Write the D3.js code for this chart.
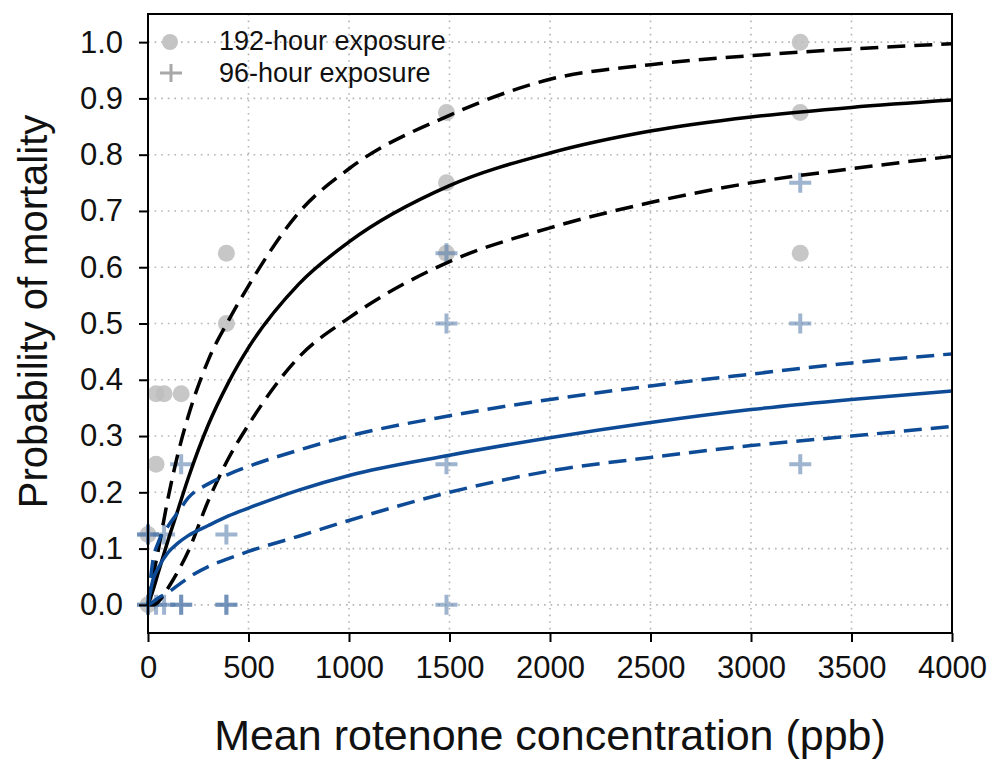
<!DOCTYPE html>
<html>
<head>
<meta charset="utf-8">
<script src="https://cdn.jsdelivr.net/npm/d3@7"></script>
<style>
	body { margin: 0; background: #fff; }
	svg { display: block; font-family: "Liberation Sans", Arial, sans-serif; }
</style>
</head>
<body>
<div id="chart"></div>
<script>

// Observed mortality, 192-hour exposure (grey circles)
var circleConc = [0, 0, 40, 40, 80, 165, 390, 390, 1485, 1485, 1485, 3245, 3245, 3245];
var circleMort = [0.125, 0, 0.375, 0.25, 0.375, 0.375, 0.625, 0.5, 0.875, 0.75, 0.625, 1.0, 0.875, 0.625];

// Observed mortality, 96-hour exposure (crosses, repeats overlap)
var crossConc = [0, 0, 0, 0, 40, 80, 80, 165, 165, 165, 390, 390, 390, 1485, 1485, 1485, 1485, 3245, 3245, 3245];
var crossMort = [0.125, 0.125, 0, 0, 0, 0.125, 0, 0.25, 0, 0, 0.125, 0, 0, 0.625, 0.5, 0.25, 0, 0.75, 0.5, 0.25];

// Fitted curves
var curveConc = [0, 25, 50, 100, 150, 200, 300, 400, 500, 750, 1000, 1500, 2000, 2500, 3000, 3500, 4000];
var fit192 =      [0, 0.026, 0.056, 0.115, 0.17, 0.225, 0.32, 0.395, 0.457, 0.57, 0.645, 0.745, 0.803, 0.842, 0.867, 0.884, 0.897];
var fit192Upper = [0, 0.05, 0.095, 0.19, 0.27, 0.335, 0.435, 0.505, 0.567, 0.697, 0.775, 0.87, 0.934, 0.96, 0.976, 0.988, 0.997];
var fit192Lower = [0, 0.0, 0.005, 0.03, 0.06, 0.095, 0.185, 0.26, 0.32, 0.44, 0.51, 0.61, 0.67, 0.715, 0.75, 0.775, 0.797];
var fit96 =       [0, 0.045, 0.065, 0.093, 0.11, 0.123, 0.141, 0.158, 0.172, 0.204, 0.23, 0.266, 0.297, 0.324, 0.347, 0.365, 0.38];
var fit96Upper =  [0, 0.08, 0.11, 0.14, 0.165, 0.19, 0.215, 0.232, 0.246, 0.275, 0.30, 0.336, 0.365, 0.389, 0.41, 0.43, 0.446];
var fit96Lower =  [0, 0.005, 0.012, 0.022, 0.035, 0.048, 0.068, 0.082, 0.095, 0.122, 0.15, 0.2, 0.238, 0.262, 0.283, 0.30, 0.317];

var xTicks = [0, 500, 1000, 1500, 2000, 2500, 3000, 3500, 4000];
var yTicks = [0, 0.1, 0.2, 0.3, 0.4, 0.5, 0.6, 0.7, 0.8, 0.9, 1.0];

var legendLabels = ["192-hour exposure", "96-hour exposure"];

var blue = "#0e4b96";

// Svg and plot area
var width = 992, height = 759;
var margin = {top: 14, right: 40, bottom: 126, left: 148};
var plotW = width - margin.left - margin.right;
var plotH = height - margin.top - margin.bottom;

var svg = d3.select("#chart").append("svg")
	.attr("width", width)
	.attr("height", height);

var chart = svg.append("g")
	.attr("transform", "translate(" + margin.left + "," + margin.top + ")");

// Scales
var xscale = d3.scaleLinear().domain([0, 4000]).range([0, plotW]);
var yscale = d3.scaleLinear().domain([-0.05, 1.05]).range([plotH, 0]);

// Dotted grid
chart.append("g").selectAll("line")
	.data(yTicks)
	.enter().append("line")
	.attr("x1", 0).attr("x2", plotW)
	.attr("y1", d => yscale(d)).attr("y2", d => yscale(d))
	.attr("stroke", "#b5b5b5")
	.attr("stroke-width", 1.6)
	.attr("stroke-dasharray", "1.6,5");

chart.append("g").selectAll("line")
	.data(xTicks.slice(1, -1))
	.enter().append("line")
	.attr("y1", 0).attr("y2", plotH)
	.attr("x1", d => xscale(d)).attr("x2", d => xscale(d))
	.attr("stroke", "#b5b5b5")
	.attr("stroke-width", 1.6)
	.attr("stroke-dasharray", "1.6,5");

// Points
var circles = circleConc.map((c, i) => ({conc: c, mort: circleMort[i]}));
var crosses = crossConc.map((c, i) => ({conc: c, mort: crossMort[i]}));

chart.append("g").selectAll("circle")
	.data(circles)
	.enter().append("circle")
	.attr("cx", d => xscale(d.conc))
	.attr("cy", d => yscale(d.mort))
	.attr("r", 8.5)
	.attr("fill", "#bdbdbd")
	.attr("fill-opacity", 0.85);

chart.append("g").selectAll("path")
	.data(crosses)
	.enter().append("path")
	.attr("d", d => {
		var x = xscale(d.conc), y = yscale(d.mort);
		return "M" + (x - 11) + "," + y + "H" + (x + 11) + "M" + x + "," + (y - 10) + "V" + (y + 10);
	})
	.attr("stroke", "#4f76a8")
	.attr("stroke-opacity", 0.55)
	.attr("stroke-width", 4)
	.attr("fill", "none");

// Fitted lines
var line = d3.line()
	.x(d => xscale(d[0]))
	.y(d => yscale(d[1]))
	.curve(d3.curveMonotoneX);

var curves = [
	{values: fit192Upper, color: "#000", dash: "18,9"},
	{values: fit192Lower, color: "#000", dash: "18,9"},
	{values: fit192, color: "#000", dash: null},
	{values: fit96Upper, color: blue, dash: "18,9"},
	{values: fit96Lower, color: blue, dash: "18,9"},
	{values: fit96, color: blue, dash: null}
];

chart.append("g").selectAll("path")
	.data(curves)
	.enter().append("path")
	.attr("d", d => line(curveConc.map((c, i) => [c, d.values[i]])))
	.attr("fill", "none")
	.attr("stroke", d => d.color)
	.attr("stroke-width", 3.5)
	.attr("stroke-dasharray", d => d.dash);

// Frame
chart.append("rect")
	.attr("width", plotW)
	.attr("height", plotH)
	.attr("fill", "none")
	.attr("stroke", "#000")
	.attr("stroke-width", 2);

// Axes
var xaxis = d3.axisBottom(xscale).tickValues(xTicks).tickSize(9).tickPadding(14).tickFormat(d3.format("d"));
var yaxis = d3.axisLeft(yscale).tickValues(yTicks).tickSize(9).tickPadding(16).tickFormat(d3.format(".1f"));

var gx = chart.append("g")
	.attr("transform", "translate(0," + plotH + ")")
	.call(xaxis);
var gy = chart.append("g").call(yaxis);

[gx, gy].forEach(g => {
	g.select(".domain").remove();
	g.selectAll("line").attr("stroke", "#000").attr("stroke-width", 2);
	g.selectAll("text").attr("font-size", 31).attr("fill", "#111")
		.attr("font-family", "Liberation Sans, Arial, sans-serif");
});

// Axis titles
svg.append("text")
	.attr("x", margin.left + plotW / 2)
	.attr("y", 750)
	.attr("text-anchor", "middle")
	.attr("font-size", 43)
	.attr("fill", "#111")
	.text("Mean rotenone concentration (ppb)");

svg.append("text")
	.attr("transform", "translate(47," + (margin.top + plotH / 2 - 12) + ") rotate(-90)")
	.attr("text-anchor", "middle")
	.attr("font-size", 40)
	.attr("fill", "#111")
	.text("Probability of mortality");

// Legend
var legend = chart.append("g");
legend.append("circle")
	.attr("cx", 22).attr("cy", 28).attr("r", 8)
	.attr("fill", "#c4c4c4");
legend.append("path")
	.attr("d", "M12,59H34M23,50V68")
	.attr("stroke", "#a8a8a8")
	.attr("stroke-width", 3);
legend.selectAll("text")
	.data(legendLabels)
	.enter().append("text")
	.attr("x", 71)
	.attr("y", (d, i) => 36 + i * 32)
	.attr("font-size", 27)
	.attr("fill", "#111")
	.text(d => d);

</script>
</body>
</html>
